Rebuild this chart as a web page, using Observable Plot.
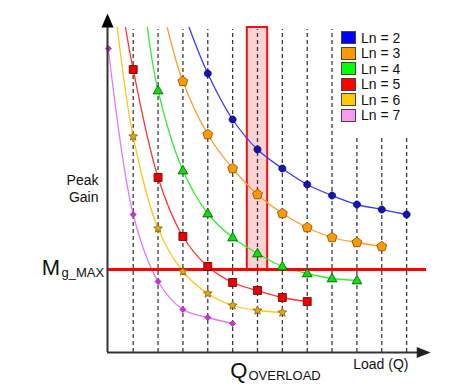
<!DOCTYPE html>
<html>
<head>
<meta charset="utf-8">
<script src="https://cdn.jsdelivr.net/npm/d3@7"></script>
<script src="https://cdn.jsdelivr.net/npm/@observablehq/plot@0.6"></script>
<style>
  html, body { margin: 0; padding: 0; background: #fff; }
  #wrap { position: relative; width: 450px; height: 387px; font-family: "Liberation Sans", Arial, sans-serif; }
  #legend { position: absolute; left: 341px; top: 30px; font-size: 14px; color: #111; }
  .row { display: flex; align-items: center; height: 15.5px; }
  .sw { width: 15px; height: 13px; border: 1px solid #444; margin-right: 5px; box-sizing: border-box; }
</style>
</head>
<body>
<div id="wrap"><div id="legend"></div></div>
<script>
// ---- data (Load Q index vs. peak gain, arbitrary gain units) ----
const seriesLabels = ["Ln = 2", "Ln = 3", "Ln = 4", "Ln = 5", "Ln = 6", "Ln = 7"];
const legendColors = ["#0000ff", "#ff9900", "#00ff00", "#ff0000", "#ffcc00", "#f79bf0"];
const lineColors   = ["#3a3aff", "#ff9c2a", "#33ee33", "#ff3333", "#ffc61a", "#e277ff"];

const ln2Q = [4, 5, 6, 7, 8, 9, 10, 11, 12];
const ln2G = [27.9, 23.3, 20.3, 18.4, 16.8, 15.7, 14.8, 14.3, 13.8];
const ln3Q = [3, 4, 5, 6, 7, 8, 9, 10, 11];
const ln3G = [27.1, 21.8, 18.4, 15.8, 13.9, 12.5, 11.5, 11.0, 10.6];
const ln4Q = [2, 3, 4, 5, 6, 7, 8, 9, 10];
const ln4G = [26.2, 18.2, 13.9, 11.5, 9.9, 8.6, 7.9, 7.4, 7.2];
const ln5Q = [1, 2, 3, 4, 5, 6, 7, 8];
const ln5G = [28.3, 17.5, 11.6, 8.6, 7.0, 6.2, 5.5, 5.1];
const ln6Q = [1, 2, 3, 4, 5, 6, 7];
const ln6G = [21.6, 12.4, 8.1, 5.9, 4.7, 4.2, 4.0];
const ln7Q = [0, 1, 2, 3, 4, 5];
const ln7G = [30.4, 13.8, 7.1, 4.3, 3.5, 2.9];

// where each curve enters from the top of the plot (no marker there)
const curveStartQ = [3.25, 2.37, 1.57, 0.69, 0.36, null];
const curveStartG = [32.5, 32.5, 32.5, 32.5, 32.5, null];

const gridQ   = [1, 2, 3, 4, 5, 6, 7, 8, 9, 10, 11, 12];
const gridTop = [32.3, 32.3, 32.3, 32.3, 32.3, 32.3, 32.3, 32.3, 32.3, 21.7, 21.7, 21.7];

const mgMax = 8.3;
const overloadQ = 6;
const overloadHalfWidth = 0.41;
const overloadTop = 32.5;

const xDomain = [-0.034, 12.88];
const yDomain = [0, 34];

// ---- symbols ----
const polygon = (n, r, rot = -Math.PI / 2) => ({
  draw(ctx) {
    for (let i = 0; i < n; i++) {
      const a = rot + i * 2 * Math.PI / n;
      const x = r * Math.cos(a), y = r * Math.sin(a);
      i ? ctx.lineTo(x, y) : ctx.moveTo(x, y);
    }
    ctx.closePath();
  }
});
const starSym = (r) => ({
  draw(ctx) {
    for (let i = 0; i < 10; i++) {
      const a = -Math.PI / 2 + i * Math.PI / 5;
      const rr = i % 2 ? r * 0.45 : r;
      const x = rr * Math.cos(a), y = rr * Math.sin(a);
      i ? ctx.lineTo(x, y) : ctx.moveTo(x, y);
    }
    ctx.closePath();
  }
});
const squareSym = (h) => ({ draw(ctx) { ctx.rect(-h, -h, 2 * h, 2 * h); } });
const triSym = (r) => ({
  draw(ctx) { ctx.moveTo(0, -r); ctx.lineTo(r * 0.95, r * 0.65); ctx.lineTo(-r * 0.95, r * 0.65); ctx.closePath(); }
});
const arrowUp = { draw(ctx) { ctx.moveTo(0, 0); ctx.lineTo(-6, 14); ctx.lineTo(6, 14); ctx.closePath(); } };
const arrowRight = { draw(ctx) { ctx.moveTo(0, 0); ctx.lineTo(-14, -5.5); ctx.lineTo(-14, 5.5); ctx.closePath(); } };

const markerStyles = [
  { symbol: polygon(40, 3.5), fill: "#1414b4", stroke: "#00004a" },
  { symbol: polygon(5, 5.2), fill: "#ff9900", stroke: "#7a4d00" },
  { symbol: triSym(5.2), fill: "#11dd11", stroke: "#005500" },
  { symbol: squareSym(4.0), fill: "#ee0000", stroke: "#5a0000" },
  { symbol: starSym(4.6), fill: "#e0a81c", stroke: "#806000" },
  { symbol: polygon(4, 3.0, 0), fill: "#cc33dd", stroke: "#9a22aa" }
];

const allQ = [ln2Q, ln3Q, ln4Q, ln5Q, ln6Q, ln7Q];
const allG = [ln2G, ln3G, ln4G, ln5G, ln6G, ln7G];

const points = allQ.map((qs, s) => qs.map((q, i) => ({ q, g: allG[s][i], s })));
const curves = points.map((pts, s) =>
  (curveStartQ[s] == null ? [] : [{ q: curveStartQ[s], g: curveStartG[s], s }]).concat(pts));
const grid = gridQ.map((q, i) => ({ q, top: gridTop[i] }));

const marks = [
  Plot.rect([{ x1: overloadQ - overloadHalfWidth, x2: overloadQ + overloadHalfWidth, y1: mgMax, y2: overloadTop }],
    { x1: "x1", x2: "x2", y1: "y1", y2: "y2", fill: "#fbd3d3", stroke: "#ee1111", strokeWidth: 2 }),
  Plot.ruleX(grid, { x: "q", y1: 0, y2: "top", stroke: "#3a3a3a", strokeWidth: 1.3, strokeDasharray: "4,3" }),
  ...curves.map((c, s) => Plot.line(c, { x: "q", y: "g", curve: "catmull-rom", stroke: lineColors[s], strokeWidth: 1.3 })),
  Plot.ruleY([mgMax], { x1: xDomain[0], x2: 12.8, stroke: "#ff0000", strokeWidth: 3.2 }),
  ...points.map((p, s) => Plot.dot(p, { x: "q", y: "g", r: 4, symbol: markerStyles[s].symbol,
    fill: markerStyles[s].fill, stroke: markerStyles[s].stroke, strokeWidth: 0.8 })),
  // axes
  Plot.ruleX([xDomain[0]], { y1: 0, y2: 33, stroke: "#333", strokeWidth: 2 }),
  Plot.ruleY([0], { x1: xDomain[0], x2: 12.5, stroke: "#333", strokeWidth: 2 }),
  Plot.dot([{ q: xDomain[0], g: 33.9 }], { x: "q", y: "g", symbol: arrowUp, fill: "#000", stroke: "none", r: 6 }),
  Plot.dot([{ q: 12.97, g: 0 }], { x: "q", y: "g", symbol: arrowRight, fill: "#222", stroke: "none", r: 6 }),
  // labels
  Plot.text(["Peak\nGain"], { x: xDomain[0], y: 16.4, text: d => d, textAnchor: "end", dx: -9, fontSize: 14, lineHeight: 1.2, fill: "#111" }),
  Plot.text(["M"], { x: xDomain[0], y: mgMax, text: d => d, textAnchor: "end", dx: -47.5, dy: -2, fontSize: 22, fill: "#111" }),
  Plot.text(["g_MAX"], { x: xDomain[0], y: mgMax, text: d => d, textAnchor: "start", dx: -46, dy: 3.5, fontSize: 13, fill: "#111" }),
  Plot.text(["Q"], { x: overloadQ, y: 0, text: d => d, textAnchor: "end", dx: -10, dy: 18, fontSize: 22, fill: "#111" }),
  Plot.text(["OVERLOAD"], { x: overloadQ, y: 0, text: d => d, textAnchor: "start", dx: -9, dy: 23, fontSize: 13, fill: "#111" }),
  Plot.text(["Load (Q)"], { x: 9.85, y: 0, text: d => d, textAnchor: "start", dy: 12, fontSize: 14, fill: "#111" })
];

const chart = Plot.plot({
  width: 450, height: 387,
  marginLeft: 107, marginRight: 22, marginTop: 12, marginBottom: 35,
  x: { domain: xDomain, axis: null },
  y: { domain: yDomain, axis: null },
  style: { fontFamily: "Liberation Sans, Arial, sans-serif", background: "#fff", overflow: "visible" },
  marks
});
document.getElementById("wrap").prepend(chart);

const legend = document.getElementById("legend");
seriesLabels.forEach((lab, i) => {
  const row = document.createElement("div");
  row.className = "row";
  row.innerHTML = `<div class="sw" style="background:${legendColors[i]}"></div><span>${lab}</span>`;
  legend.appendChild(row);
});
</script>
</body>
</html>
